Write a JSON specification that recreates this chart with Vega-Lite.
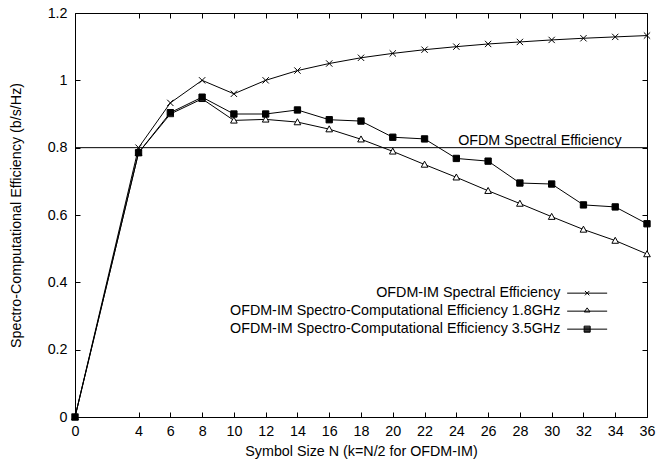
{
  "$schema": "https://vega.github.io/schema/vega-lite/v6.json",
  "width": 572,
  "height": 404,
  "autosize": {"type": "none"},
  "padding": {"left": 75, "top": 13, "right": 10, "bottom": 49},
  "background": "white",
  "config": {
    "font": "Liberation Sans",
    "view": {"stroke": null},
    "axis": {
      "domainColor": "black",
      "domainWidth": 1,
      "tickColor": "black",
      "tickWidth": 1,
      "tickSize": -5,
      "labelColor": "black",
      "labelFont": "Liberation Sans",
      "labelFontSize": 14.3,
      "labelFlush": false,
      "titleColor": "black",
      "titleFont": "Liberation Sans",
      "titleFontSize": 14.3,
      "titleFontWeight": "normal",
      "grid": false
    },
    "legend": {
      "labelFont": "Liberation Sans",
      "labelColor": "black"
    }
  },
  "datasets": {
    "main": [
      {"n": 0, "s": "OFDM-IM Spectral Efficiency", "v": 0},
      {"n": 4, "s": "OFDM-IM Spectral Efficiency", "v": 0.8},
      {"n": 6, "s": "OFDM-IM Spectral Efficiency", "v": 0.933},
      {"n": 8, "s": "OFDM-IM Spectral Efficiency", "v": 1.0},
      {"n": 10, "s": "OFDM-IM Spectral Efficiency", "v": 0.96},
      {"n": 12, "s": "OFDM-IM Spectral Efficiency", "v": 1.0},
      {"n": 14, "s": "OFDM-IM Spectral Efficiency", "v": 1.029},
      {"n": 16, "s": "OFDM-IM Spectral Efficiency", "v": 1.05},
      {"n": 18, "s": "OFDM-IM Spectral Efficiency", "v": 1.067},
      {"n": 20, "s": "OFDM-IM Spectral Efficiency", "v": 1.08},
      {"n": 22, "s": "OFDM-IM Spectral Efficiency", "v": 1.091},
      {"n": 24, "s": "OFDM-IM Spectral Efficiency", "v": 1.1},
      {"n": 26, "s": "OFDM-IM Spectral Efficiency", "v": 1.108},
      {"n": 28, "s": "OFDM-IM Spectral Efficiency", "v": 1.114},
      {"n": 30, "s": "OFDM-IM Spectral Efficiency", "v": 1.12},
      {"n": 32, "s": "OFDM-IM Spectral Efficiency", "v": 1.125},
      {"n": 34, "s": "OFDM-IM Spectral Efficiency", "v": 1.129},
      {"n": 36, "s": "OFDM-IM Spectral Efficiency", "v": 1.133},
      {"n": 0, "s": "OFDM-IM Spectro-Computational Efficiency 1.8GHz", "v": 0},
      {"n": 4, "s": "OFDM-IM Spectro-Computational Efficiency 1.8GHz", "v": 0.785},
      {"n": 6, "s": "OFDM-IM Spectro-Computational Efficiency 1.8GHz", "v": 0.9},
      {"n": 8, "s": "OFDM-IM Spectro-Computational Efficiency 1.8GHz", "v": 0.945},
      {"n": 10, "s": "OFDM-IM Spectro-Computational Efficiency 1.8GHz", "v": 0.881},
      {"n": 12, "s": "OFDM-IM Spectro-Computational Efficiency 1.8GHz", "v": 0.884},
      {"n": 14, "s": "OFDM-IM Spectro-Computational Efficiency 1.8GHz", "v": 0.876},
      {"n": 16, "s": "OFDM-IM Spectro-Computational Efficiency 1.8GHz", "v": 0.855},
      {"n": 18, "s": "OFDM-IM Spectro-Computational Efficiency 1.8GHz", "v": 0.825},
      {"n": 20, "s": "OFDM-IM Spectro-Computational Efficiency 1.8GHz", "v": 0.789},
      {"n": 22, "s": "OFDM-IM Spectro-Computational Efficiency 1.8GHz", "v": 0.75},
      {"n": 24, "s": "OFDM-IM Spectro-Computational Efficiency 1.8GHz", "v": 0.712},
      {"n": 26, "s": "OFDM-IM Spectro-Computational Efficiency 1.8GHz", "v": 0.672},
      {"n": 28, "s": "OFDM-IM Spectro-Computational Efficiency 1.8GHz", "v": 0.634},
      {"n": 30, "s": "OFDM-IM Spectro-Computational Efficiency 1.8GHz", "v": 0.595},
      {"n": 32, "s": "OFDM-IM Spectro-Computational Efficiency 1.8GHz", "v": 0.557},
      {"n": 34, "s": "OFDM-IM Spectro-Computational Efficiency 1.8GHz", "v": 0.524},
      {"n": 36, "s": "OFDM-IM Spectro-Computational Efficiency 1.8GHz", "v": 0.484},
      {"n": 0, "s": "OFDM-IM Spectro-Computational Efficiency 3.5GHz", "v": 0},
      {"n": 4, "s": "OFDM-IM Spectro-Computational Efficiency 3.5GHz", "v": 0.785},
      {"n": 6, "s": "OFDM-IM Spectro-Computational Efficiency 3.5GHz", "v": 0.904},
      {"n": 8, "s": "OFDM-IM Spectro-Computational Efficiency 3.5GHz", "v": 0.95},
      {"n": 10, "s": "OFDM-IM Spectro-Computational Efficiency 3.5GHz", "v": 0.9},
      {"n": 12, "s": "OFDM-IM Spectro-Computational Efficiency 3.5GHz", "v": 0.9},
      {"n": 14, "s": "OFDM-IM Spectro-Computational Efficiency 3.5GHz", "v": 0.912},
      {"n": 16, "s": "OFDM-IM Spectro-Computational Efficiency 3.5GHz", "v": 0.883},
      {"n": 18, "s": "OFDM-IM Spectro-Computational Efficiency 3.5GHz", "v": 0.879},
      {"n": 20, "s": "OFDM-IM Spectro-Computational Efficiency 3.5GHz", "v": 0.831},
      {"n": 22, "s": "OFDM-IM Spectro-Computational Efficiency 3.5GHz", "v": 0.826},
      {"n": 24, "s": "OFDM-IM Spectro-Computational Efficiency 3.5GHz", "v": 0.768},
      {"n": 26, "s": "OFDM-IM Spectro-Computational Efficiency 3.5GHz", "v": 0.76},
      {"n": 28, "s": "OFDM-IM Spectro-Computational Efficiency 3.5GHz", "v": 0.695},
      {"n": 30, "s": "OFDM-IM Spectro-Computational Efficiency 3.5GHz", "v": 0.692},
      {"n": 32, "s": "OFDM-IM Spectro-Computational Efficiency 3.5GHz", "v": 0.63},
      {"n": 34, "s": "OFDM-IM Spectro-Computational Efficiency 3.5GHz", "v": 0.624},
      {"n": 36, "s": "OFDM-IM Spectro-Computational Efficiency 3.5GHz", "v": 0.574}
    ],
    "ref": [
      {"n": 34.4, "v": 0.8, "label": "OFDM Spectral Efficiency"}
    ]
  },
  "resolve": {
    "axis": {"x": "independent", "y": "independent"},
    "scale": {"shape": "independent", "fill": "independent"}
  },
  "layer": [
    {
      "data": {"name": "main"},
      "mark": {"type": "line", "color": "black", "strokeWidth": 1},
      "encoding": {
        "x": {
          "field": "n", "type": "quantitative",
          "scale": {"domain": [0, 36], "nice": false, "zero": false},
          "axis": {
            "values": [0, 4, 6, 8, 10, 12, 14, 16, 18, 20, 22, 24, 26, 28, 30, 32, 34, 36],
            "title": "Symbol Size N (k=N/2 for OFDM-IM)",
            "labelPadding": 12,
            "titlePadding": 6,
            "format": "d"
          }
        },
        "y": {
          "field": "v", "type": "quantitative",
          "scale": {"domain": [0, 1.2], "nice": false},
          "axis": {
            "values": [0, 0.2, 0.4, 0.6, 0.8, 1, 1.2],
            "format": "~g",
            "title": "Spectro-Computational Efficiency (b/s/Hz)",
            "labelPadding": 13,
            "titlePadding": 24
          }
        },
        "detail": {"field": "s"}
      }
    },
    {
      "data": {"name": "main"},
      "mark": {"type": "point", "size": 40, "stroke": "black", "strokeWidth": 1, "opacity": 1},
      "encoding": {
        "x": {"field": "n", "type": "quantitative", "axis": null},
        "y": {"field": "v", "type": "quantitative", "axis": null},
        "shape": {
          "field": "s", "type": "nominal",
          "scale": {
            "domain": ["OFDM-IM Spectral Efficiency", "OFDM-IM Spectro-Computational Efficiency 1.8GHz", "OFDM-IM Spectro-Computational Efficiency 3.5GHz"],
            "range": ["M-1,-1L1,1M-1,1L1,-1", "M0,-1.05L1.05,0.85L-1.05,0.85Z", "M-1,-1L1,-1L1,1L-1,1Z"]
          },
          "legend": null
        },
        "fill": {
          "field": "s", "type": "nominal",
          "scale": {
            "domain": ["OFDM-IM Spectral Efficiency", "OFDM-IM Spectro-Computational Efficiency 1.8GHz", "OFDM-IM Spectro-Computational Efficiency 3.5GHz"],
            "range": ["transparent", "white", "black"]
          },
          "legend": null
        }
      }
    },
    {
      "data": {"name": "main"},
      "transform": [{"filter": "false"}],
      "mark": {"type": "point", "filled": false, "stroke": "black", "strokeWidth": 1, "opacity": 1, "size": 30},
      "encoding": {
        "x": {"field": "n", "type": "quantitative", "axis": null},
        "y": {"field": "v", "type": "quantitative", "axis": null},
        "shape": {
          "field": "s", "type": "nominal",
          "scale": {
            "domain": ["OFDM-IM Spectral Efficiency", "OFDM-IM Spectro-Computational Efficiency 1.8GHz", "OFDM-IM Spectro-Computational Efficiency 3.5GHz"],
            "range": [
              "M-7.3,0L7.3,0M-0.8,-0.8L0.8,0.8M-0.8,0.8L0.8,-0.8",
              "M-7.3,0L7.3,0M0,-1.2L1.05,0.3L-1.05,0.3Z",
              "M-7.3,0L7.3,0M-1.1,-1.1L1.1,-1.1L1.1,1.1L-1.1,1.1ZM-1.1,-0.75L1.1,-0.75M-1.1,-0.4L1.1,-0.4M-1.1,-0.05L1.1,-0.05M-1.1,0.3L1.1,0.3M-1.1,0.65L1.1,0.65M-1.1,0.95L1.1,0.95"
            ]
          },
          "legend": {
            "orient": "none",
            "legendX": 505,
            "legendY": 273,
            "title": null,
            "padding": 0,
            "labelAlign": "right",
            "labelOffset": -34,
            "labelFontSize": 14.3,
            "labelLimit": 500,
            "symbolSize": 30,
            "symbolStrokeColor": "black",
            "symbolStrokeWidth": 1,
            "symbolOpacity": 1,
            "rowPadding": 3
          }
        }
      }
    },
    {
      "data": {"name": "ref"},
      "mark": {"type": "rule", "color": "black", "strokeWidth": 1},
      "encoding": {
        "y": {"field": "v", "type": "quantitative", "axis": null}
      }
    },
    {
      "data": {"name": "ref"},
      "mark": {"type": "text", "align": "right", "baseline": "alphabetic", "dy": -3, "fontSize": 14.3, "font": "Liberation Sans", "color": "black"},
      "encoding": {
        "x": {"field": "n", "type": "quantitative", "axis": null},
        "y": {"field": "v", "type": "quantitative", "axis": null},
        "text": {"field": "label"}
      }
    },
    {
      "data": {"name": "ref"},
      "mark": {"type": "point", "opacity": 0},
      "encoding": {
        "x": {
          "field": "n", "type": "quantitative",
          "axis": {"orient": "top", "labels": false, "title": null, "values": [0, 4, 6, 8, 10, 12, 14, 16, 18, 20, 22, 24, 26, 28, 30, 32, 34, 36]}
        },
        "y": {
          "field": "v", "type": "quantitative",
          "axis": {"orient": "right", "labels": false, "title": null, "values": [0, 0.2, 0.4, 0.6, 0.8, 1, 1.2]}
        }
      }
    }
  ]
}
